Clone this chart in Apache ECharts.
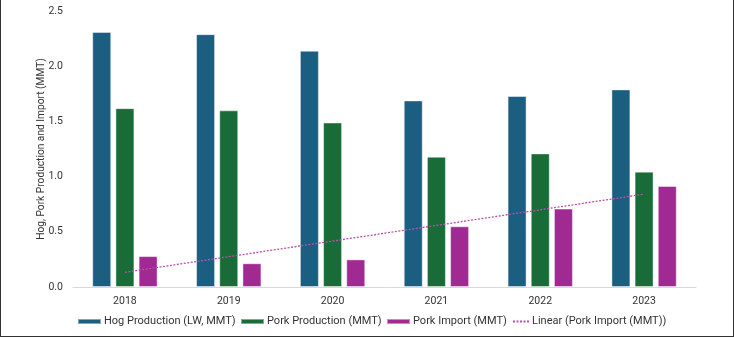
<!DOCTYPE html>
<html>
<head>
<meta charset="utf-8">
<script src="https://cdn.jsdelivr.net/npm/echarts@6/dist/echarts.min.js"></script>
<style>
html,body{margin:0;padding:0;background:#fff;}
#wrap{position:relative;width:732px;height:336px;border-left:1px solid #333;border-right:1px solid #333;border-bottom:1px solid #333;}
#chart{width:732px;height:336px;}
</style>
</head>
<body>
<div id="wrap"><div id="chart"></div></div>
<script>
// data
const years=['2018','2019','2020','2021','2022','2023'];
const hogProd=[2.31,2.29,2.14,1.69,1.73,1.79];
const porkProd=[1.62,1.60,1.49,1.18,1.21,1.045];
const porkImport=[0.28,0.215,0.25,0.55,0.71,0.915];
// trendline end points (first and last year), middle left empty
const trendImport=[0.133,null,null,null,null,0.841];
const yTicks=[0,0.5,1.0,1.5,2.0,2.5];

const names=['Hog Production (LW, MMT)','Pork Production (MMT)','Pork Import (MMT)','Linear (Pork Import (MMT))'];
const legendLeft=[76,239,385,511];

const font='Roboto, "Noto Sans", sans-serif';
let myChart=echarts.init(document.getElementById('chart'));

let barStyle=(color)=>({
    color:color,
    borderColor:'rgba(255,255,255,0.45)',
    borderWidth:1,
});

let legends=names.map((name,i)=>({
    top:316,
    left:legendLeft[i],
    padding:0,
    itemWidth:i<3?23:16,
    itemHeight:5,
    textStyle:{fontSize:11,color:'#333',fontFamily:font,padding:[0,0,0,-2]},
    data:[i<3?{name:name,icon:'rect'}:{name:name,itemStyle:{opacity:0}}],
}));

let option={
    animation:false,
    textStyle:{fontFamily:font},
    grid:{
        left:72,
        right:37,
        top:11,
        bottom:49,
    },
    legend:legends,
    xAxis:{
        type:'category',
        data:years,
        axisLine:{lineStyle:{color:'#d9d9d9',width:1}},
        axisTick:{show:false},
        axisLabel:{color:'#333',fontSize:10.5,margin:9,fontFamily:font},
    },
    yAxis:{
        type:'value',
        min:0,
        max:yTicks[yTicks.length-1],
        interval:0.5,
        name:'Hog, Pork Production and Import (MMT)',
        nameLocation:'middle',
        nameGap:27,
        nameMoveOverlap:false,
        nameTextStyle:{color:'#333',fontSize:10.2,fontFamily:font},
        splitLine:{show:false},
        axisLine:{show:false},
        axisLabel:{
            color:'#333',
            fontSize:10.5,
            margin:10,
            fontFamily:font,
            formatter:(v)=>v.toFixed(1),
        },
    },
    series:[
        {
            name:names[0],
            type:'bar',
            data:hogProd,
            barWidth:19,
            barGap:'22%',
            itemStyle:barStyle('#1b5e80'),
        },
        {
            name:names[1],
            type:'bar',
            data:porkProd,
            barWidth:19,
            barGap:'22%',
            itemStyle:barStyle('#196b38'),
        },
        {
            name:names[2],
            type:'bar',
            data:porkImport,
            barWidth:19,
            barGap:'22%',
            itemStyle:barStyle('#a02a91'),
        },
        {
            name:names[3],
            type:'line',
            data:trendImport,
            connectNulls:true,
            symbol:'none',
            z:5,
            itemStyle:{color:'#b850b0'},
            lineStyle:{color:'#b850b0',width:1.3,type:[2,1.5]},
        },
    ],
};

myChart.setOption(option);
</script>
</body>
</html>
